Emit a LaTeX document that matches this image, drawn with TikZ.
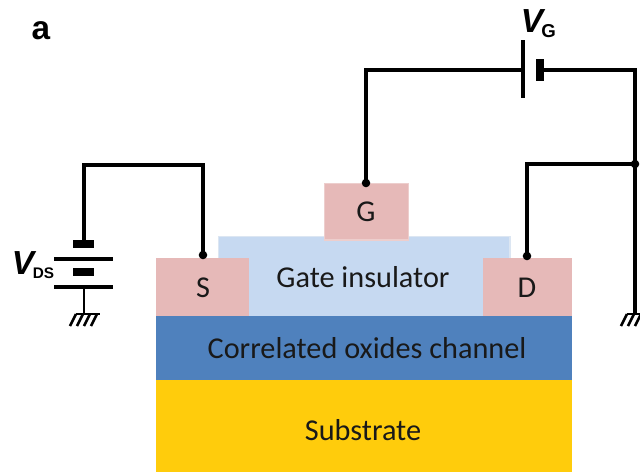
\documentclass[tikz,border=0pt]{standalone}
\usepackage{fontspec}
\setmainfont{Carlito}
\newfontfamily\labelfont{Liberation Sans}
\definecolor{contactpink}{HTML}{E6B9B8}
\definecolor{insulatorblue}{HTML}{C6D9F1}
\definecolor{insulatoredge}{HTML}{DCE6F2}
\definecolor{channelblue}{HTML}{4F81BD}
\definecolor{substrateyellow}{HTML}{FFCC0C}
\tikzset{
    wire/.style={line width=2.7pt, line join=miter},
    thinwire/.style={line width=2.2pt},
    plate/.style={line width=2.3pt},
    thickplate/.style={line width=6pt},
    layertext/.style={font=\fontsize{22.7}{24}\selectfont, text=black!90},
    vlabel/.style={font=\labelfont\bfseries, inner sep=0pt}
}
\begin{document}
\begin{tikzpicture}[x=0.75pt,y=-0.75pt]

\useasboundingbox (0,0) rectangle (640,472);

% device stack
\filldraw [fill=insulatorblue, draw=insulatoredge, line width=1pt] (218.5,236.5) rectangle (510,320);
\filldraw [fill=contactpink, draw=contactpink!70!white, line width=1pt] (324.5,183.5) rectangle (408.5,240);
\fill [contactpink] (156,258) rectangle (249,316);
\fill [contactpink] (483,258) rectangle (572,316);
\fill [substrateyellow] (156,380) rectangle (572,472);
\fill [channelblue] (156,316) rectangle (572,380);

\node [layertext] (sub) at (363,430) {Substrate};
\node [layertext] (chan) at (367,348) {Correlated oxides channel};
\node [layertext] (ins) at (363,277) {Gate insulator};
\node [layertext] (s) at (203,288) {S};
\node [layertext] (d) at (527,288) {D};
\node [layertext] (g) at (366,212) {G};

\coordinate (sdot) at (203,255);
\coordinate (ddot) at (527,256);
\coordinate (gdot) at (366,183);
\coordinate (jdot) at (635,164);

\foreach \i in {sdot,ddot,gdot,jdot}
    \fill (\i) circle (3.2pt);

% drain-source source
\coordinate (dstop) at (84,240);
\coordinate (dsbot) at (84,287);
\coordinate (dsgnd) at (84,314);
\draw [wire] (dstop) -- (84,165) -- (203,165) -- (sdot);
\draw [thickplate] (73,244) -- (94,244);
\draw [plate] (54,259) -- (113,259);
\draw [thickplate] (73,272) -- (94,272);
\draw [plate] (54,287) -- (113,287);
\draw [thinwire] (dsbot) -- (dsgnd);

% gate source
\coordinate (gplate) at (523,70);
\coordinate (gthick) at (540,70);
\coordinate (gnd) at (635,314);
\draw [wire] (gdot) -- (366,70) -- (gplate);
\draw [plate] (523,40) -- (523,98);
\draw [line width=6.6pt] (540,59) -- (540,81);
\draw [wire] (gthick) -- (635,70) -- (gnd);
\draw [wire] (jdot) -- (527,164) -- (ddot);

% ground hatching
\foreach \i in {dsgnd,gnd} {
    \draw [line width=2pt] ([xshift=-6pt]\i) -- ([xshift=12pt]\i);
    \foreach \j in {-8,-1,6,13}
        \draw [line width=2pt] ([xshift=\j*0.75pt]\i) -- ([xshift=\j*0.75pt-4.5pt,yshift=-9pt]\i);
}

\node [font=\labelfont\bfseries\fontsize{25}{26}\selectfont, inner sep=0pt] (a) at (41,31) {a};
\node [vlabel, font=\labelfont\bfseries\itshape\fontsize{25}{26}\selectfont] (vds) at (23,263) {V};
\node [vlabel, font=\labelfont\bfseries\fontsize{11.5}{12}\selectfont, anchor=west] (ds) at (32.5,273) {DS};
\node [vlabel, font=\labelfont\bfseries\itshape\fontsize{25}{26}\selectfont] (vg) at (532,21) {V};
\node [vlabel, font=\labelfont\bfseries\fontsize{14}{14}\selectfont, anchor=west] (gs) at (541,31) {G};

\end{tikzpicture}
\end{document}
